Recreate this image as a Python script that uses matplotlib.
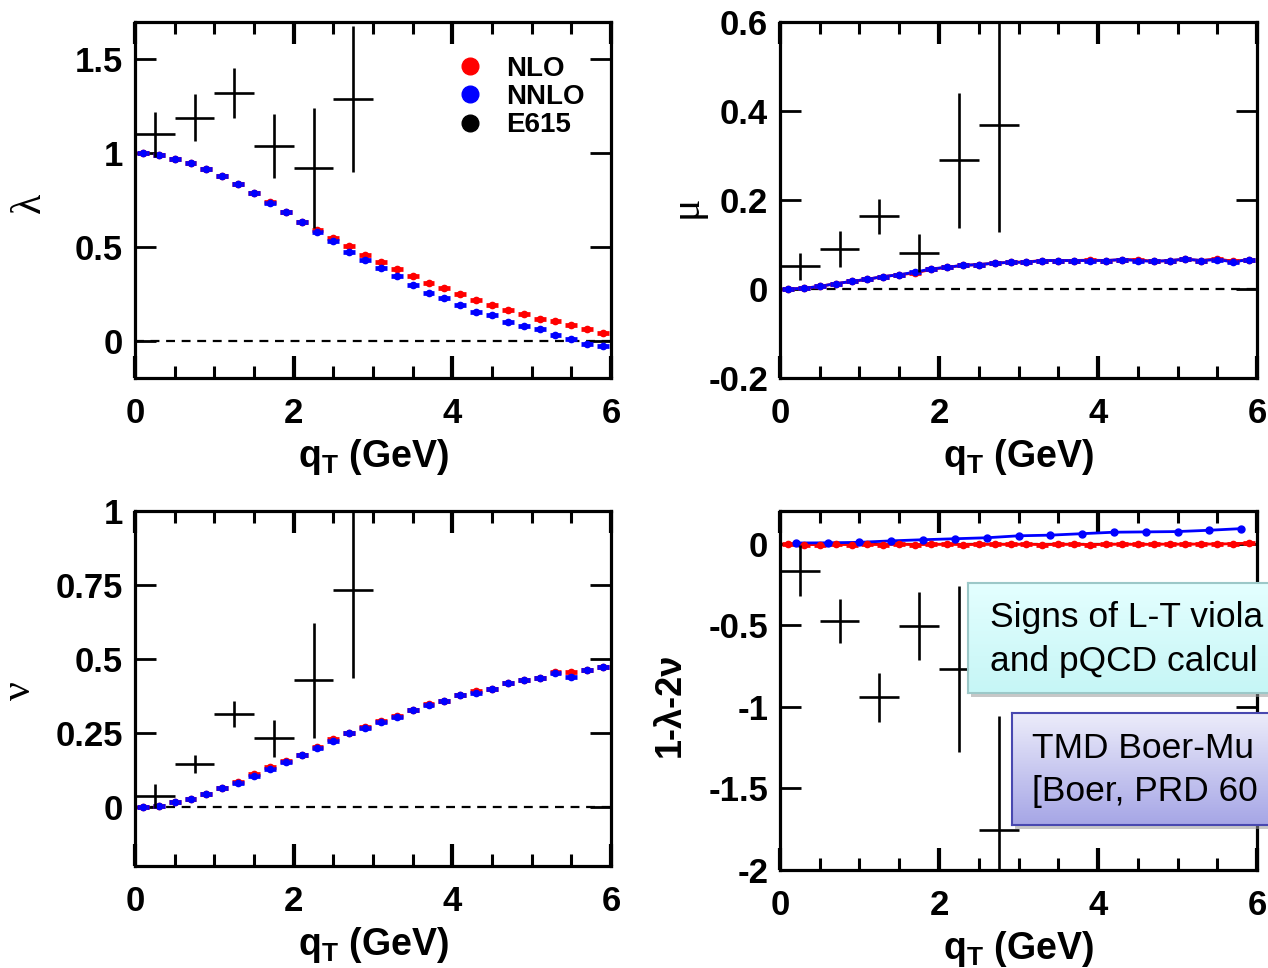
import matplotlib
matplotlib.use('Agg')
import matplotlib.pyplot as plt
import numpy as np
from matplotlib.lines import Line2D
from matplotlib.patches import Rectangle

plt.rcParams['font.family'] = ['Liberation Sans', 'DejaVu Sans']
plt.rcParams['font.weight'] = 'bold'
plt.rcParams['mathtext.fontset'] = 'custom'
plt.rcParams['mathtext.rm'] = 'Liberation Sans:bold'
plt.rcParams['mathtext.bf'] = 'Liberation Sans:bold'
plt.rcParams['mathtext.it'] = 'Liberation Sans:bold'

# ---------------- data ----------------
qt = [0.1, 0.3, 0.5, 0.7, 0.9, 1.1, 1.3, 1.5, 1.7, 1.9,
      2.1, 2.3, 2.5, 2.7, 2.9, 3.1, 3.3, 3.5, 3.7, 3.9,
      4.1, 4.3, 4.5, 4.7, 4.9, 5.1, 5.3, 5.5, 5.7, 5.9]

lam_nlo = [1.00, 0.99, 0.97, 0.95, 0.918, 0.878, 0.833, 0.785, 0.738, 0.686,
           0.633, 0.591, 0.545, 0.502, 0.459, 0.418, 0.384, 0.344, 0.308, 0.283,
           0.247, 0.215, 0.188, 0.165, 0.143, 0.116, 0.104, 0.081, 0.063, 0.041]
lam_nnlo = [1.00, 0.99, 0.97, 0.95, 0.918, 0.878, 0.833, 0.785, 0.736, 0.684,
            0.630, 0.577, 0.529, 0.475, 0.430, 0.385, 0.344, 0.296, 0.256, 0.228,
            0.192, 0.152, 0.134, 0.099, 0.075, 0.063, 0.027, 0.009, -0.018, -0.030]

mu_nlo = [0.0, 0.0015, 0.006, 0.012, 0.017, 0.022, 0.028, 0.032, 0.036, 0.044,
          0.049, 0.053, 0.055, 0.058, 0.060, 0.061, 0.064, 0.064, 0.064, 0.065,
          0.064, 0.066, 0.066, 0.062, 0.064, 0.067, 0.064, 0.068, 0.062, 0.066]
mu_nnlo = [0.0, 0.0015, 0.006, 0.012, 0.017, 0.022, 0.028, 0.032, 0.038, 0.045,
           0.049, 0.053, 0.055, 0.058, 0.060, 0.060, 0.064, 0.064, 0.064, 0.064,
           0.064, 0.066, 0.064, 0.062, 0.064, 0.067, 0.064, 0.066, 0.061, 0.066]

nu_nlo = [0.0, 0.003, 0.015, 0.026, 0.043, 0.063, 0.084, 0.110, 0.133, 0.154,
          0.176, 0.202, 0.229, 0.251, 0.271, 0.290, 0.306, 0.329, 0.346, 0.359,
          0.379, 0.390, 0.399, 0.418, 0.429, 0.436, 0.455, 0.457, 0.464, 0.474]
nu_nnlo = [0.0, 0.003, 0.015, 0.026, 0.043, 0.062, 0.080, 0.105, 0.127, 0.152,
           0.175, 0.200, 0.221, 0.249, 0.265, 0.288, 0.305, 0.327, 0.345, 0.358,
           0.377, 0.386, 0.398, 0.417, 0.428, 0.434, 0.452, 0.440, 0.463, 0.473]

viol_nlo = [-0.005, -0.006, -0.006, -0.005, -0.006, -0.005, -0.006, -0.004, -0.006, -0.005,
            -0.004, -0.006, -0.005, -0.004, -0.005, -0.004, -0.006, -0.005, -0.004, -0.006,
            -0.005, -0.003, -0.005, -0.004, -0.003, -0.004, -0.002, -0.003, 0.000, 0.003]
viol_qt_nnlo = [0.2, 0.6, 1.0, 1.4, 1.8, 2.2, 2.6, 3.0, 3.4, 3.8, 4.2, 4.6, 5.0, 5.4, 5.8]
viol_nnlo = [0.004, 0.005, 0.008, 0.017, 0.024, 0.030, 0.036, 0.048, 0.052, 0.061,
             0.070, 0.072, 0.074, 0.082, 0.092]

e615_qt = [0.25, 0.75, 1.25, 1.75, 2.25, 2.75]
e615_lam = [1.10, 1.19, 1.32, 1.04, 0.92, 1.29]
e615_lam_err = [0.12, 0.125, 0.135, 0.17, 0.32, 0.39]
e615_mu = [0.051, 0.090, 0.163, 0.081, 0.289, 0.369]
e615_mu_err = [0.03, 0.04, 0.04, 0.043, 0.152, 0.24]
e615_nu = [0.037, 0.144, 0.313, 0.231, 0.428, 0.732]
e615_nu_err = [0.04, 0.03, 0.044, 0.064, 0.195, 0.295]
e615_viol = [-0.165, -0.475, -0.94, -0.506, -0.769, -1.756]
e615_viol_err = [0.155, 0.135, 0.15, 0.21, 0.51, 0.70]
e615_xerr = 0.25

legend_labels = ['NLO', 'NNLO', 'E615']
box1_lines = ['Signs of L-T viola', 'and pQCD calcul']
box2_lines = ['TMD Boer-Mu', '[Boer, PRD 60']
RED = '#ff0000'
BLUE = '#0000ff'

# ---------------- figure ----------------
W, H = 1268, 968
fig = plt.figure(figsize=(W / 100, H / 100), dpi=100)


def px_axes(x0, y0, x1, y1):
    return fig.add_axes([x0 / W, 1 - y1 / H, (x1 - x0) / W, (y1 - y0) / H])


ax_lam = px_axes(135, 22, 611, 378)
ax_mu = px_axes(780, 22, 1257, 378)
ax_nu = px_axes(135, 511, 611, 866)
ax_vi = px_axes(780, 511, 1257, 870)


def style(ax, ylim, yticks, ylabels):
    ax.set_xlim(0, 6)
    ax.set_ylim(*ylim)
    ax.set_xticks([0, 2, 4, 6])
    ax.set_xticklabels(['0', '2', '4', '6'])
    ax.set_xticks(np.arange(0, 6.01, 0.5), minor=True)
    ax.set_yticks(yticks)
    ax.set_yticklabels(ylabels)
    for s in ax.spines.values():
        s.set_linewidth(2.3)
    ax.tick_params(axis='x', which='major', direction='in', top=True, bottom=True,
                   length=16, width=3.0, labelsize=25, pad=14)
    ax.tick_params(axis='x', which='minor', direction='in', top=True, bottom=True,
                   length=8.5, width=2.2)
    ax.tick_params(axis='y', which='major', direction='in', left=True, right=True,
                   length=15, width=2.0, labelsize=25, pad=8.5)
    ax.axhline(0, color='black', lw=1.6, ls=(0, (4, 3)), zorder=1)
    ax.set_xlabel(r'q$_{\mathrm{T}}$ (GeV)', fontsize=27, fontweight='bold', labelpad=5)


def curves(ax, ynlo, ynnlo, connect=False):
    for y, c in ((ynlo, RED), (ynnlo, BLUE)):
        if connect:
            ax.plot(qt, y, color=c, lw=2.0, zorder=2)
        ax.errorbar(qt, y, xerr=0.075, fmt='o', color=c, ms=4.5, elinewidth=3.4,
                    capsize=0, zorder=3)


def data(ax, y, yerr):
    ax.errorbar(e615_qt, y, xerr=e615_xerr, yerr=yerr, fmt='none', ecolor='black',
                elinewidth=1.9, capsize=0, zorder=4)


# lambda
style(ax_lam, (-0.2, 1.7), [0, 0.5, 1, 1.5], ['0', '0.5', '1', '1.5'])
curves(ax_lam, lam_nlo, lam_nnlo)
data(ax_lam, e615_lam, e615_lam_err)
handles = [Line2D([], [], ls='none', marker='o', color=c, ms=12)
           for c in (RED, BLUE, 'black')]
ax_lam.legend(handles, legend_labels, loc='upper left', bbox_to_anchor=(0.675, 0.905),
              frameon=False, handlelength=1.0, handletextpad=0.8,
              labelspacing=0.08, borderpad=0, borderaxespad=0,
              prop={'weight': 'bold', 'size': 20})

# mu
style(ax_mu, (-0.2, 0.6), [-0.2, 0, 0.2, 0.4, 0.6], ['-0.2', '0', '0.2', '0.4', '0.6'])
curves(ax_mu, mu_nlo, mu_nnlo, connect=True)
data(ax_mu, e615_mu, e615_mu_err)

# nu
style(ax_nu, (-0.2, 1.0), [0, 0.25, 0.5, 0.75, 1], ['0', '0.25', '0.5', '0.75', '1'])
curves(ax_nu, nu_nlo, nu_nnlo)
data(ax_nu, e615_nu, e615_nu_err)

# 1 - lambda - 2 nu
style(ax_vi, (-2, 0.2), [-2, -1.5, -1, -0.5, 0], ['-2', '-1.5', '-1', '-0.5', '0'])
ax_vi.plot(qt, viol_nlo, color=RED, lw=2.0, zorder=2)
ax_vi.errorbar(qt, viol_nlo, xerr=0.075, fmt='o', color=RED, ms=4.5, elinewidth=3.4,
               capsize=0, zorder=3)
ax_vi.plot(viol_qt_nnlo, viol_nnlo, color=BLUE, lw=2.0, marker='o', ms=5, zorder=3)
data(ax_vi, e615_viol, e615_viol_err)

# y labels
greek = dict(family=['Liberation Serif', 'DejaVu Serif'], fontweight='normal',
             fontsize=30, rotation=90, ha='center', va='center')
fig.text(30 / W, 1 - 203 / H, 'λ', **greek)
fig.text(686 / W, 1 - 207 / H, 'μ', **greek)
fig.text(20 / W, 1 - 691 / H, 'ν', **greek)
fig.text(670 / W, 1 - 705 / H, '1-λ-2ν', fontsize=26, fontweight='bold', rotation=90,
         ha='center', va='center')


# annotation boxes with gradient fill
def grad_box(x0, y0, x1, y1, ctop, cbot, edge, lines, tx, ty, dy):
    sh = Rectangle(((x0 + 3) / W, 1 - (y1 + 4) / H), (x1 - x0) / W, (y1 - y0) / H,
                   transform=fig.transFigure, facecolor='#9a9a9a', alpha=0.55,
                   edgecolor='none', zorder=9)
    fig.patches.append(sh)
    bax = fig.add_axes([x0 / W, 1 - y1 / H, (x1 - x0) / W, (y1 - y0) / H], zorder=10)
    g = np.linspace(0, 1, 64)[:, None]
    cols = np.array(matplotlib.colors.to_rgb(ctop)) * (1 - g) + \
        np.array(matplotlib.colors.to_rgb(cbot)) * g
    bax.imshow(cols[:, None, :], aspect='auto', extent=[0, 1, 0, 1])
    bax.set_xticks([])
    bax.set_yticks([])
    for s in bax.spines.values():
        s.set_color(edge)
        s.set_linewidth(1.5)
    for i, t in enumerate(lines):
        fig.text(tx / W, 1 - (ty + i * dy) / H, t, fontsize=25.5, fontweight='normal',
                 ha='left', va='center', zorder=11)


grad_box(968, 583, 1400, 693, '#e4ffff', '#c6f6f6', '#9cc8c8', box1_lines, 990, 617, 44)
grad_box(1012, 713, 1400, 825, '#ececfa', '#a6a6e6', '#4848b0', box2_lines, 1032, 748, 44)

fig.savefig('out.png', dpi=100)
